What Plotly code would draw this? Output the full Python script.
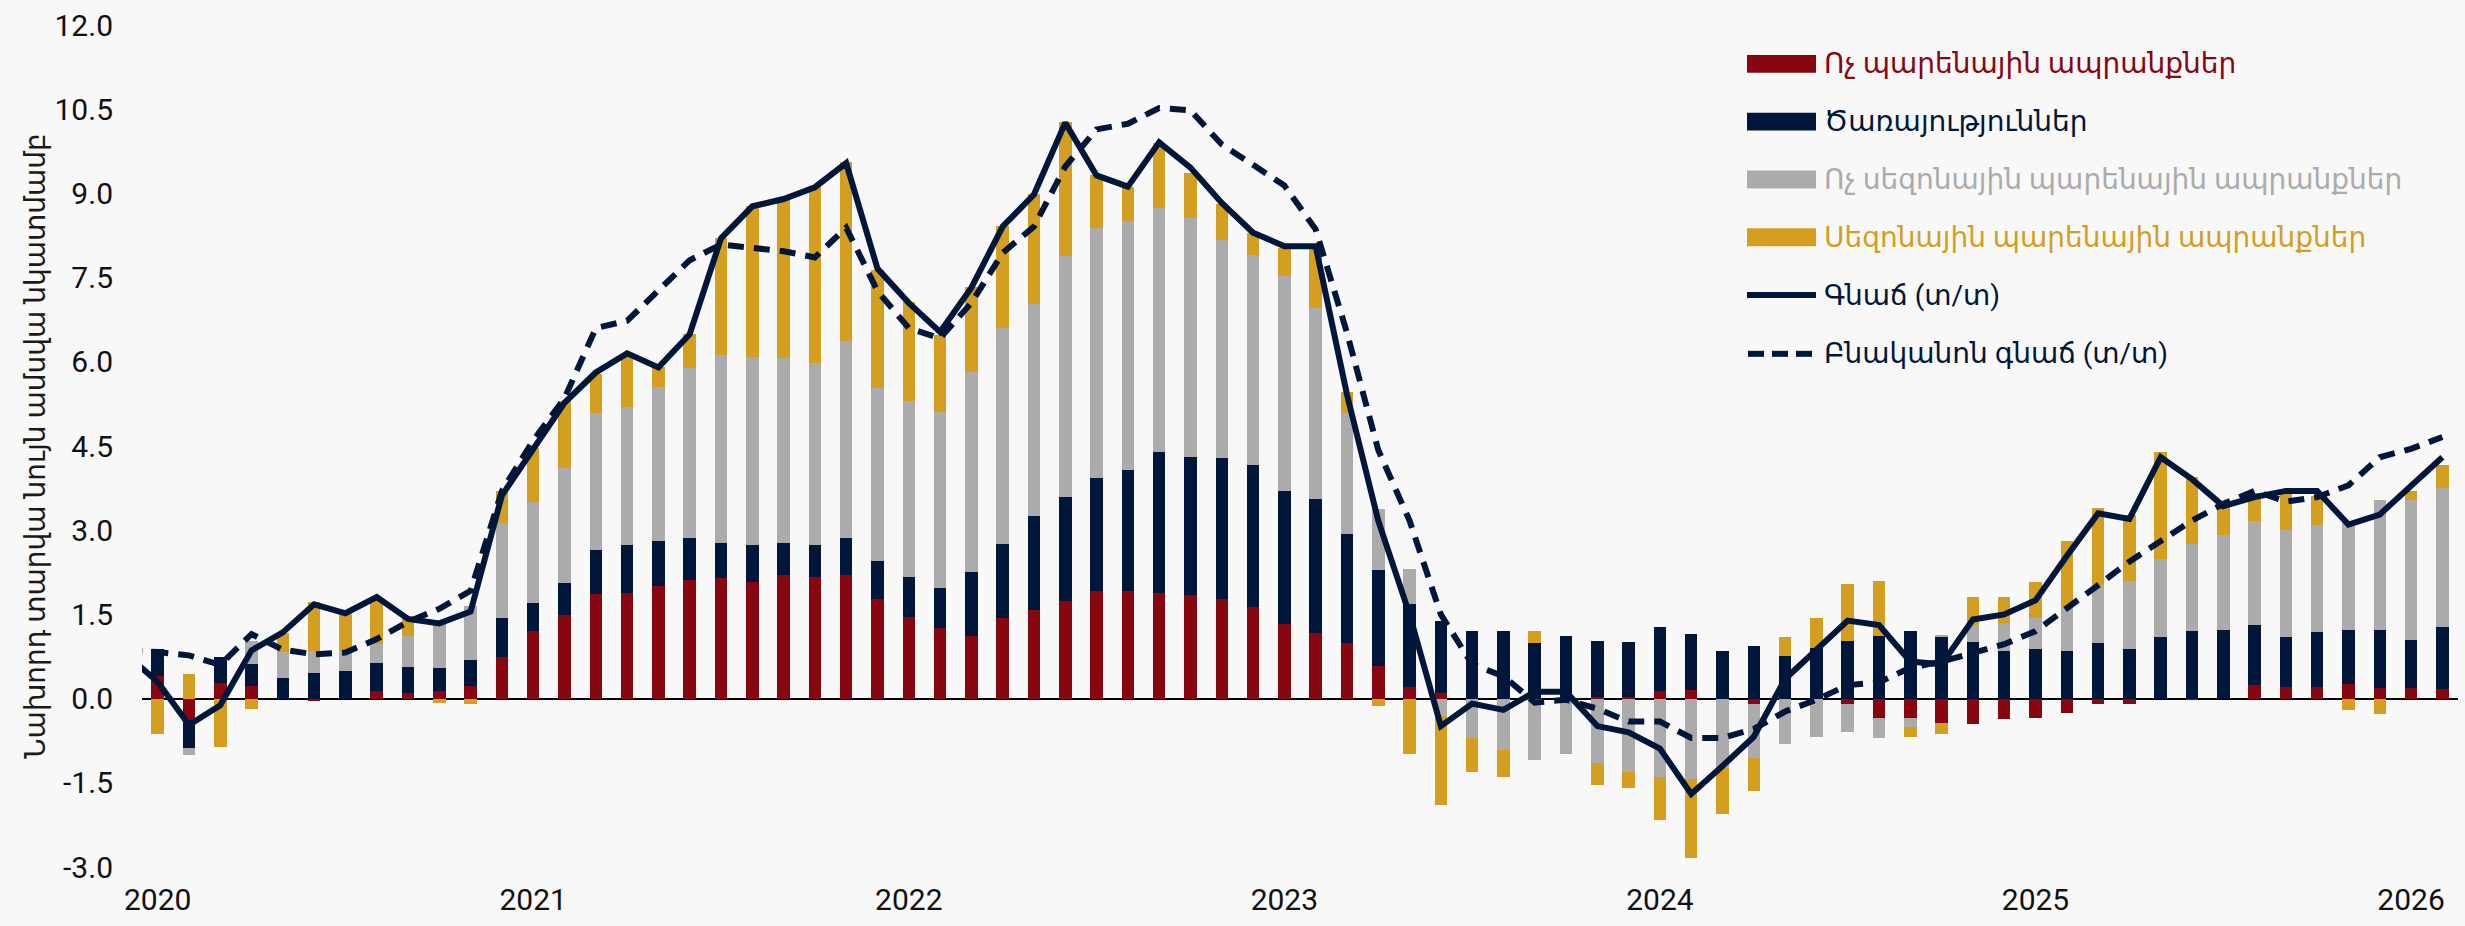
import plotly.graph_objects as go

# ---- categories (monthly, Jan 2020 .. Feb 2026) ----
months = [f"{y}-{m:02d}" for y in range(2020, 2027) for m in range(1, 13)][:74]
line_months = ["2019-12"] + months
year_ticks = ["2020", "2021", "2022", "2023", "2024", "2025", "2026"]
y_tick_vals = [-3.0, -1.5, 0.0, 1.5, 3.0, 4.5, 6.0, 7.5, 9.0, 10.5, 12.0]
y_tick_text = ["-3.0", "-1.5", "0.0", "1.5", "3.0", "4.5", "6.0", "7.5", "9.0", "10.5", "12.0"]

# ---- contributions (percentage points) ----
non_food_goods = [0.40, -0.44, 0.27, 0.22, 0.00, -0.04, 0.00, 0.14, 0.10, 0.14, 0.22, 0.74,
                  1.21, 1.49, 1.86, 1.88, 2.01, 2.12, 2.14, 2.08, 2.21, 2.16, 2.21, 1.77,
                  1.45, 1.26, 1.11, 1.43, 1.57, 1.74, 1.92, 1.91, 1.88, 1.84, 1.78, 1.64,
                  1.33, 1.16, 0.99, 0.58, 0.21, 0.10, 0.00, 0.00, 0.00, 0.02, 0.03, 0.02,
                  0.14, 0.16, 0.00, -0.10, 0.00, 0.00, -0.10, -0.35, -0.35, -0.43, -0.45, -0.37,
                  -0.34, -0.26, -0.10, -0.10, 0.00, -0.03, 0.00, 0.24, 0.21, 0.21, 0.26, 0.19,
                  0.19, 0.17]
services = [0.49, -0.44, 0.47, 0.40, 0.36, 0.45, 0.49, 0.49, 0.47, 0.41, 0.46, 0.70,
            0.49, 0.57, 0.79, 0.86, 0.79, 0.74, 0.64, 0.66, 0.57, 0.58, 0.65, 0.68,
            0.71, 0.71, 1.14, 1.33, 1.68, 1.85, 2.01, 2.16, 2.51, 2.47, 2.51, 2.52,
            2.36, 2.40, 1.94, 1.71, 1.48, 1.29, 1.20, 1.20, 0.99, 1.10, 1.00, 0.98,
            1.13, 0.99, 0.84, 0.94, 0.76, 0.90, 1.03, 1.11, 1.20, 1.11, 1.01, 0.84,
            0.89, 0.84, 0.99, 0.89, 1.10, 1.20, 1.23, 1.07, 0.89, 0.97, 0.97, 1.03,
            0.86, 1.10]
non_seasonal_food = [0.00, -0.12, 0.00, 0.41, 0.47, 0.39, 0.38, 0.35, 0.55, 0.80, 0.97, 1.68,
                     1.80, 2.05, 2.43, 2.45, 2.76, 3.03, 3.35, 3.35, 3.29, 3.23, 3.51, 3.09,
                     3.14, 3.14, 3.56, 3.84, 3.78, 4.29, 4.45, 4.44, 4.35, 4.25, 3.88, 3.75,
                     3.84, 3.40, 2.16, 1.08, 0.62, -0.31, -0.70, -0.91, -1.10, -0.99, -1.15, -1.30,
                     -1.39, -1.43, -1.23, -0.96, -0.81, -0.68, -0.49, -0.36, -0.15, 0.02, 0.31, 0.50,
                     0.55, 0.80, 1.03, 1.21, 1.39, 1.55, 1.69, 1.86, 1.90, 1.92, 1.91, 2.32,
                     2.49, 2.48]
seasonal_food = [-0.63, 0.43, -0.87, -0.19, 0.33, 0.88, 0.63, 0.79, 0.31, -0.07, -0.09, 0.58,
                 0.97, 1.19, 0.71, 0.91, 0.34, 0.61, 2.07, 2.68, 2.84, 3.16, 3.19, 2.09,
                 1.76, 1.36, 1.53, 1.82, 1.96, 2.39, 0.94, 0.61, 1.16, 0.80, 0.65, 0.39,
                 0.49, 1.08, 0.37, -0.13, -0.99, -1.59, -0.60, -0.49, 0.21, 0.00, -0.39, -0.29,
                 -0.77, -1.41, -0.82, -0.58, 0.34, 0.54, 1.02, 0.98, -0.19, -0.20, 0.49, 0.47,
                 0.63, 1.17, 1.38, 1.17, 1.91, 1.20, 0.52, 0.49, 0.67, 0.51, -0.21, -0.28,
                 0.16, 0.41]

# ---- inflation lines (y/y, %), first point = Dec 2019 ----
inflation = [0.78, 0.30, -0.47, -0.12, 0.86, 1.18, 1.68, 1.52, 1.81, 1.42, 1.34, 1.55, 3.62,
             4.45, 5.27, 5.81, 6.15, 5.90, 6.49, 8.20, 8.77, 8.90, 9.11, 9.54, 7.66,
             7.05, 6.53, 7.32, 8.41, 8.98, 10.26, 9.32, 9.12, 9.91, 9.46, 8.83, 8.30,
             8.06, 8.06, 5.42, 3.17, 1.50, -0.49, -0.09, -0.20, 0.12, 0.12, -0.49, -0.60,
             -0.89, -1.70, -1.20, -0.68, 0.35, 0.87, 1.39, 1.31, 0.66, 0.61, 1.41, 1.50,
             1.75, 2.54, 3.30, 3.20, 4.30, 3.91, 3.43, 3.59, 3.70, 3.70, 3.10, 3.28,
             3.80, 4.30]
core_inflation = [0.85, 0.83, 0.77, 0.60, 1.15, 0.87, 0.79, 0.82, 1.06, 1.37, 1.60, 1.92, 3.70,
                  4.60, 5.35, 6.60, 6.73, 7.26, 7.81, 8.09, 8.04, 7.97, 7.86, 8.39, 7.26,
                  6.60, 6.42, 7.05, 7.94, 8.41, 9.48, 10.14, 10.24, 10.52, 10.48, 9.87, 9.51,
                  9.14, 8.36, 6.52, 4.43, 3.17, 1.50, 0.61, 0.40, -0.07, -0.02, -0.18, -0.41,
                  -0.41, -0.70, -0.70, -0.54, -0.23, -0.02, 0.24, 0.29, 0.55, 0.66, 0.82, 0.97,
                  1.20, 1.60, 2.02, 2.44, 2.81, 3.17, 3.47, 3.70, 3.51, 3.59, 3.80, 4.30,
                  4.45, 4.66]

names = ["Ոչ պարենային ապրանքներ", "Ծառայություններ",
         "Ոչ սեզոնային պարենային ապրանքներ", "Սեզոնային պարենային ապրանքներ",
         "Գնաճ (տ/տ)", "Բնականոն գնաճ (տ/տ)"]
y_title = "Նախորդ տարվա նույն ամսվա նկատմամբ"

RED, NAVY, GRAY, GOLD = "#88060F", "#00173B", "#ABABAB", "#D49E21"
BG = "#F8F8F8"
FONT = "Roboto, 'DejaVu Sans', sans-serif"

W, H = 2465, 926
ML, MR, MT, MB = 142, 7, 22, 59
PW, PH = W - ML - MR, H - MT - MB


def px_x(p):  # pixel -> paper x
    return (p - ML) / PW


def px_y(p):  # pixel -> paper y
    return (H - MB - p) / PH


xi = list(range(len(months)))
xl = [line_months.index(m) - 1 for m in line_months]

fig = go.Figure()
bar_specs = [(non_food_goods, RED), (services, NAVY), (non_seasonal_food, GRAY), (seasonal_food, GOLD)]
for (vals, col), nm in zip(bar_specs, names[:4]):
    fig.add_trace(go.Bar(x=xi, y=vals, marker=dict(color=col, line=dict(width=0)),
                         width=0.4, name=nm, showlegend=False, hovertext=months))

fig.add_trace(go.Scatter(x=xl, y=inflation, mode="lines", name=names[4], showlegend=False,
                         line=dict(color=NAVY, width=6)))
fig.add_trace(go.Scatter(x=xl, y=core_inflation, mode="lines", name=names[5], showlegend=False,
                         line=dict(color=NAVY, width=6, dash="16px,10px")))

# ---- legend drawn as shapes + text ----
rows = [61, 119, 177, 235, 293, 352]
text_cols = [RED, NAVY, GRAY, GOLD, NAVY, NAVY]
sym_x0, sym_x1, text_x = 1747, 1816, 1822
shapes = []
annotations = []
for i, (nm, yc, tc) in enumerate(zip(names, rows, text_cols)):
    if i < 4:
        shapes.append(dict(type="rect", xref="paper", yref="paper",
                           x0=px_x(sym_x0), x1=px_x(sym_x1), y0=px_y(yc + 9), y1=px_y(yc - 9),
                           fillcolor=bar_specs[i][1], line=dict(width=0), layer="above"))
    elif i == 4:
        shapes.append(dict(type="line", xref="paper", yref="paper",
                           x0=px_x(sym_x0), x1=px_x(sym_x1), y0=px_y(yc), y1=px_y(yc),
                           line=dict(color=NAVY, width=6), layer="above"))
    else:
        for a, b in [(1748, 1764), (1772, 1788), (1796, 1812)]:
            shapes.append(dict(type="line", xref="paper", yref="paper",
                               x0=px_x(a), x1=px_x(b), y0=px_y(yc), y1=px_y(yc),
                               line=dict(color=NAVY, width=6), layer="above"))
    annotations.append(dict(xref="paper", yref="paper", x=px_x(text_x), y=px_y(yc),
                            xanchor="left", yanchor="middle", showarrow=False,
                            text=nm, font=dict(size=28, color=tc, family=FONT)))

fig.update_layout(
    width=W, height=H,
    paper_bgcolor=BG, plot_bgcolor=BG,
    barmode="relative", bargap=0,
    margin=dict(l=ML, r=MR, t=MT, b=MB),
    font=dict(family=FONT, size=30, color="#1a1a1a"),
    showlegend=False,
    shapes=shapes, annotations=annotations,
    xaxis=dict(range=[-0.5, 73.5], tickmode="array",
               tickvals=[months.index(y + "-01") for y in year_ticks], ticktext=year_ticks,
               showgrid=False, zeroline=False, showline=False, ticks="",
               ticklabelstandoff=12, tickfont=dict(size=30, color="#111")),
    yaxis=dict(range=[-3.0, 12.0], tickmode="array", tickvals=y_tick_vals, ticktext=y_tick_text,
               showgrid=False, zeroline=True, zerolinecolor="#000000", zerolinewidth=2,
               showline=False, ticks="", ticklabelstandoff=28,
               tickfont=dict(size=30, color="#111"),
               title=dict(text=y_title, font=dict(size=28, color="#1a1a1a"), standoff=0)),
)

fig.write_html(
    "out.html",
    config={"displayModeBar": False},
    post_script="document.body.style.margin='0';document.body.style.background='#F8F8F8';",
)
